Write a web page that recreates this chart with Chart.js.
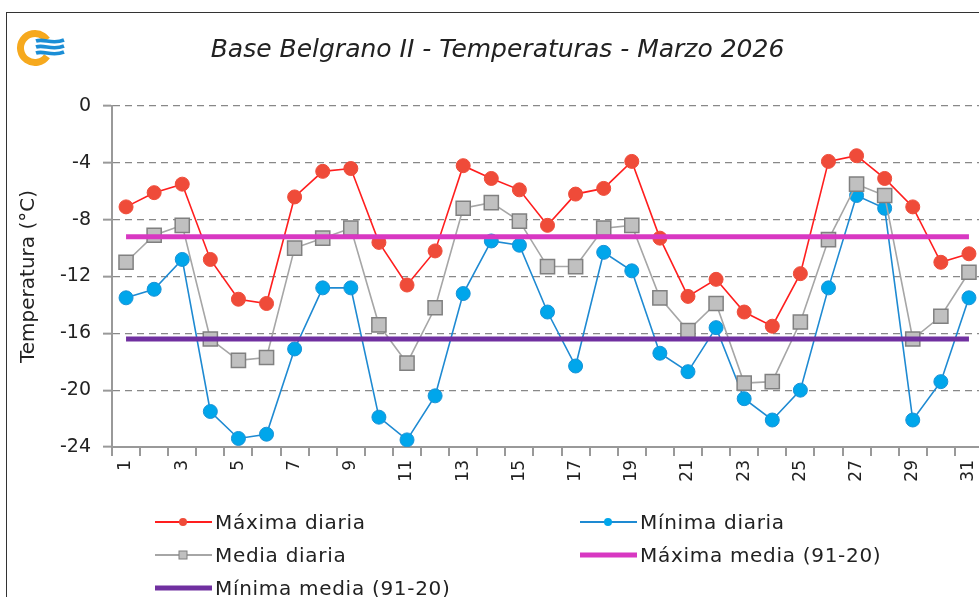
<!DOCTYPE html>
<html>
<head>
<meta charset="utf-8">
<script src="https://cdn.jsdelivr.net/npm/chart.js@4.4.1/dist/chart.umd.min.js"></script>
<style>
html, body { margin: 0; padding: 0; background: #fff; overflow: hidden; width: 979px; height: 597px; }
#marco { position: absolute; left: 6px; top: 12px; width: 1100px; height: 700px; border: 1px solid #333; }
#contenedor { position: absolute; left: 0; top: 0; width: 1000px; height: 600px; }
#leyenda { position: absolute; left: 155px; top: 505px; display: grid; grid-template-columns: 425px 425px; grid-auto-rows: 33px;
           font-family: "DejaVu Sans"; font-size: 20px; color: #222; letter-spacing: 0.7px; }
.item { display: flex; align-items: center; white-space: nowrap; }
.item svg { margin-right: 3px; }
</style>
</head>
<body>
<div id="marco"></div>
<div id="contenedor"><canvas id="tempChart"></canvas></div>
<div id="leyenda"></div>
<script>
// Datos (°C)
const dias = ["1","2","3","4","5","6","7","8","9","10","11","12","13","14","15","16",
              "17","18","19","20","21","22","23","24","25","26","27","28","29","30","31"];

const maxima = [-7.1, -6.1, -5.5, -10.8, -13.6, -13.9, -6.4, -4.6, -4.4, -9.6, -12.6, -10.2, -4.2, -5.1, -5.9, -8.4,
                -6.2, -5.8, -3.9, -9.3, -13.4, -12.2, -14.5, -15.5, -11.8, -3.9, -3.5, -5.1, -7.1, -11.0, -10.4];

const minima = [-13.5, -12.9, -10.8, -21.5, -23.4, -23.1, -17.1, -12.8, -12.8, -21.9, -23.5, -20.4, -13.2, -9.5, -9.8, -14.5,
                -18.3, -10.3, -11.6, -17.4, -18.7, -15.6, -20.6, -22.1, -20.0, -12.8, -6.3, -7.2, -22.1, -19.4, -13.5];

const media = [-11.0, -9.1, -8.4, -16.4, -17.9, -17.7, -10.0, -9.3, -8.6, -15.4, -18.1, -14.2, -7.2, -6.8, -8.1, -11.3,
               -11.3, -8.6, -8.4, -13.5, -15.8, -13.9, -19.5, -19.4, -15.2, -9.4, -5.5, -6.3, -16.4, -14.8, -11.7];

// Medias climatológicas 1991-2020
const maximaMedia = [-9.2, -9.2, -9.2, -9.2, -9.2, -9.2, -9.2, -9.2, -9.2, -9.2, -9.2, -9.2, -9.2, -9.2, -9.2, -9.2,
                     -9.2, -9.2, -9.2, -9.2, -9.2, -9.2, -9.2, -9.2, -9.2, -9.2, -9.2, -9.2, -9.2, -9.2, -9.2];

const minimaMedia = [-16.4, -16.4, -16.4, -16.4, -16.4, -16.4, -16.4, -16.4, -16.4, -16.4, -16.4, -16.4, -16.4, -16.4, -16.4, -16.4,
                     -16.4, -16.4, -16.4, -16.4, -16.4, -16.4, -16.4, -16.4, -16.4, -16.4, -16.4, -16.4, -16.4, -16.4, -16.4];

const ejeYmin = -24, ejeYmax = 0, ejeYpaso = 4;
const tituloGrafico = "Base Belgrano II - Temperaturas - Marzo 2026";
const tituloEjeY = "Temperatura (°C)";

const fuente = "DejaVu Sans";

// Logo (decorativo) arriba a la izquierda
const logoPlugin = {
    id: "logo",
    afterDraw(chart) {
        const c = chart.ctx;
        c.save();
        c.strokeStyle = "#F6A91E";
        c.lineWidth = 7;
        c.beginPath();
        c.arc(35, 48, 14.5, 0.6, 2 * Math.PI - 0.6);
        c.stroke();
        c.strokeStyle = "#1B8ED6";
        c.lineWidth = 3.6;
        [-6, 0, 6].forEach(dy => {
            c.beginPath();
            c.moveTo(36, 47 + dy);
            c.bezierCurveTo(44, 44 + dy, 52, 51 + dy, 64, 46 + dy);
            c.stroke();
        });
        c.restore();
    }
};

const ctx = document.getElementById("tempChart").getContext("2d");
const chart = new Chart(ctx, {
    type: "line",
    data: {
        labels: dias,
        datasets: [
            { label: "Máxima diaria", data: maxima, borderColor: "#FF1E1E", borderWidth: 1.6,
              pointStyle: "circle", pointRadius: 7, pointBackgroundColor: "#EF4B39", pointBorderColor: "#EF4B39", pointBorderWidth: 1, order: 5 },
            { label: "Mínima diaria", data: minima, borderColor: "#1E8AD2", borderWidth: 1.6,
              pointStyle: "circle", pointRadius: 7, pointBackgroundColor: "#00A6EB", pointBorderColor: "#1A92D6", pointBorderWidth: 1, order: 4 },
            { label: "Media diaria", data: media, borderColor: "#A6A6A6", borderWidth: 1.6,
              pointStyle: "rect", pointRadius: 10, pointBackgroundColor: "#C0C0C0", pointBorderColor: "#808080", pointBorderWidth: 1.5, order: 3 },
            { label: "Máxima media (91-20)", data: maximaMedia, borderColor: "#D838C2", borderWidth: 5,
              pointRadius: 0, order: 2 },
            { label: "Mínima media (91-20)", data: minimaMedia, borderColor: "#7030A0", borderWidth: 5,
              pointRadius: 0, order: 1 }
        ]
    },
    options: {
        responsive: true,
        maintainAspectRatio: false,
        animation: false,
        layout: { padding: { left: 12, right: 17, top: 0, bottom: 0 } },
        plugins: {
            legend: { display: false },
            tooltip: { enabled: false },
            title: {
                display: true, text: tituloGrafico, color: "#222",
                font: { family: fuente, size: 25, style: "italic", weight: "normal" },
                padding: { top: 35, bottom: 41 }
            }
        },
        scales: {
            x: {
                offset: true,
                grid: { display: true, offset: true, drawOnChartArea: false, drawTicks: true, tickLength: 9, color: "#999", lineWidth: 2 },
                border: { color: "#999", width: 2 },
                ticks: {
                    autoSkip: false, minRotation: 90, maxRotation: 90, padding: 4, color: "#222",
                    font: { family: fuente, size: 17 },
                    callback: function (v, i) { return i % 2 === 0 ? this.getLabelForValue(v) : ""; }
                },
                afterFit(s) { s.height = 153; }
            },
            y: {
                min: ejeYmin, max: ejeYmax,
                ticks: { stepSize: ejeYpaso, padding: 12, color: "#222", font: { family: fuente, size: 19 } },
                grid: { color: "#888", lineWidth: 1.3, tickLength: 9, tickColor: "#999", tickWidth: 2 },
                border: { color: "#999", width: 2, dash: [7, 5] },
                title: { display: true, text: tituloEjeY, color: "#222", font: { family: fuente, size: 20 }, padding: { top: 5, bottom: 0 } },
                afterFit(s) { s.width = 100; }
            }
        }
    },
    plugins: [logoPlugin]
});

// Leyenda en HTML, en dos columnas como el original
function muestra(ds) {
    const grueso = ds.borderWidth > 3;
    let marca = "";
    if (!grueso && ds.pointStyle === "rect") {
        marca = `<rect x="24" y="3" width="8" height="8" fill="${ds.pointBackgroundColor}" stroke="${ds.pointBorderColor}" stroke-width="1"/>`;
    } else if (!grueso) {
        marca = `<circle cx="28" cy="7" r="4" fill="${ds.pointBackgroundColor}"/>`;
    }
    return `<svg width="57" height="14"><line x1="0" y1="7" x2="57" y2="7" stroke="${ds.borderColor}" stroke-width="${grueso ? 5 : 2}"/>${marca}</svg>`;
}
document.getElementById("leyenda").innerHTML = chart.data.datasets
    .map(ds => `<div class="item">${muestra(ds)}<span>${ds.label}</span></div>`).join("");
</script>
</body>
</html>
